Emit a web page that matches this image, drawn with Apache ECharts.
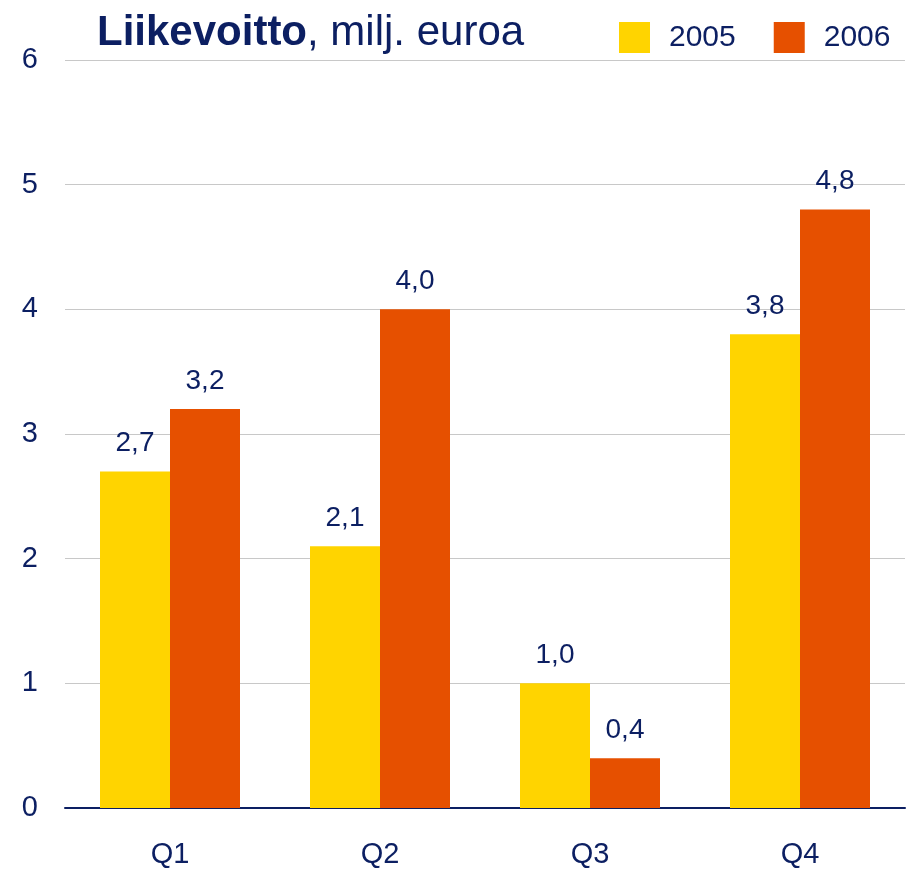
<!DOCTYPE html>
<html>
<head>
<meta charset="utf-8">
<script src="https://cdn.jsdelivr.net/npm/echarts@6/dist/echarts.min.js"></script>
<style>html,body{margin:0;padding:0;background:#fff}#c{width:912px;height:869px}</style>
</head>
<body>
<div id="c"></div>
<script>
const categories = ['Q1', 'Q2', 'Q3', 'Q4'];
const series2005 = [2.7, 2.1, 1.0, 3.8];
const series2006 = [3.2, 4.0, 0.4, 4.8];
const yTicks = [0, 1, 2, 3, 4, 5, 6];

const navy = '#0c1f62';
const font = '"Liberation Sans", Arial, sans-serif';
const fmt = p => p.value.toFixed(1).replace('.', ',');

const chart = echarts.init(document.getElementById('c'), null, {renderer: 'canvas'});
chart.setOption({
  animation: false,
  backgroundColor: '#fff',
  title: {
    text: '{b|Liikevoitto}{r|, milj. euroa}',
    left: 92, top: 7,
    textStyle: {
      fontWeight: 'normal',
      rich: {
        b: {fontFamily: font, fontSize: 42, fontWeight: 'bold', color: navy},
        r: {fontFamily: font, fontSize: 42, fontWeight: 'normal', color: navy}
      }
    }
  },
  legend: {
    left: 614, top: 17,
    itemWidth: 31, itemHeight: 31, itemGap: 38,
    icon: 'rect',
    textStyle: {fontFamily: font, fontSize: 30, color: navy, padding: [0, 0, 0, 14]},
    data: ['2005', '2006']
  },
  grid: {left: 65, right: 7, top: 60, bottom: 61},
  xAxis: {
    type: 'category',
    data: categories,
    axisLine: {lineStyle: {color: navy, width: 2}},
    axisTick: {show: false},
    axisLabel: {fontFamily: font, fontSize: 29, color: navy, margin: 32}
  },
  yAxis: {
    type: 'value',
    min: yTicks[0], max: yTicks[yTicks.length - 1], interval: 1,
    axisLine: {show: false},
    axisTick: {show: false},
    splitLine: {lineStyle: {color: '#c8c8c8', width: 1}},
    axisLabel: {fontFamily: font, fontSize: 29, color: navy, margin: 27}
  },
  series: [
    {
      name: '2005', type: 'bar', data: series2005,
      barWidth: 70, barGap: '0%',
      itemStyle: {color: '#FFD400'},
      label: {show: true, position: 'top', distance: 14, formatter: fmt,
        fontFamily: font, fontSize: 28, color: navy}
    },
    {
      name: '2006', type: 'bar', data: series2006,
      barWidth: 70, barGap: '0%',
      itemStyle: {color: '#E65000'},
      label: {show: true, position: 'top', distance: 14, formatter: fmt,
        fontFamily: font, fontSize: 28, color: navy}
    }
  ]
});
</script>
</body>
</html>
